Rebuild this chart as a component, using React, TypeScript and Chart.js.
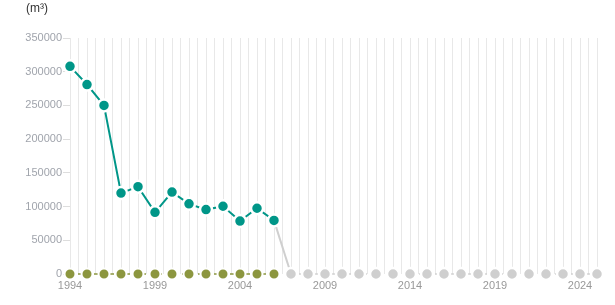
import React, { useEffect, useRef } from "react";
import { Chart, registerables } from "chart.js";

Chart.register(...registerables);

const years: number[] = Array.from({ length: 32 }, (_, i) => 1994 + i);
const mainValues: number[] = [
  308000, 281000, 250000, 120000, 129500, 91500, 121500, 104000, 95500, 100500, 78500, 97500, 79500,
  0, 0, 0, 0, 0, 0, 0, 0, 0, 0, 0, 0, 0, 0, 0, 0, 0, 0, 0,
];
const secondValues: number[] = [0, 0, 0, 0, 0, 0, 0, 0, 0, 0, 0, 0, 0];
const yTicks: number[] = [0, 50000, 100000, 150000, 200000, 250000, 300000, 350000];
const unitLabel = "(m³)";
const lastDataYear = 2006;

const TEAL = "#009688";
const OLIVE = "#8c963f";
const GRAY = "#cfcfcf";
const FONT = "'Liberation Sans', Arial, sans-serif";

export default function App() {
  const ref = useRef<HTMLCanvasElement | null>(null);
  useEffect(() => {
    if (!ref.current) return;
    const mainData = years.map((y, i) => ({ x: y, y: mainValues[i] }));
    const secondData = secondValues.map((v, i) => ({ x: years[i], y: v }));
    const chart = new Chart(ref.current, {
      type: "line",
      data: {
        datasets: [
          {
            data: secondData,
            borderColor: OLIVE,
            borderWidth: 1.5,
            borderDash: [4, 4],
            pointRadius: 5.5,
            pointBackgroundColor: OLIVE,
            pointBorderColor: "#ffffff",
            pointBorderWidth: 2,
            clip: false as any,
            order: 2,
          },
          {
            data: mainData,
            borderColor: TEAL,
            borderWidth: 2,
            pointRadius: 6,
            pointBackgroundColor: mainData.map((d) => (d.x > lastDataYear ? GRAY : TEAL)),
            pointBorderColor: "#ffffff",
            pointBorderWidth: 2.5,
            clip: false as any,
            order: 1,
            segment: {
              borderColor: (ctx: any) => (ctx.p1.parsed.x > lastDataYear ? GRAY : TEAL),
              borderDash: (ctx: any) => (ctx.p0.parsed.x > lastDataYear ? [4, 4] : undefined),
              borderWidth: (ctx: any) => (ctx.p0.parsed.x > lastDataYear ? 1.5 : 2),
            } as any,
          },
        ],
      },
      options: {
        animation: false,
        responsive: false,
        maintainAspectRatio: false,
        layout: { padding: { top: 38, right: 18, left: 0, bottom: 0 } },
        plugins: { legend: { display: false }, tooltip: { enabled: false } },
        scales: {
          x: {
            type: "linear",
            min: years[0],
            max: years[years.length - 1],
            afterFit: (s: any) => {
              s.height = 31;
            },
            grid: {
              color: "#e8e8e8",
              lineWidth: 1,
              drawTicks: false,
              tickLength: 0,
            },
            border: { display: false },
            ticks: {
              stepSize: 0.5,
              autoSkip: false,
              maxRotation: 0,
              padding: 5,
              color: "#999999",
              font: { family: FONT, size: 11 },
              callback: (v: any) => {
                const n = Number(v);
                if (Number.isInteger(n) && (n - years[0]) % 5 === 0) return String(n);
                return "";
              },
            },
          },
          y: {
            min: yTicks[0],
            max: yTicks[yTicks.length - 1],
            afterFit: (s: any) => {
              s.width = 70;
            },
            afterBuildTicks: (s: any) => {
              s.ticks = yTicks.map((v) => ({ value: v }));
            },
            grid: {
              drawOnChartArea: false,
              color: "#dddddd",
              tickLength: 7,
            },
            border: { display: false },
            ticks: {
              padding: 1,
              color: "#a0a4ac",
              font: { family: FONT, size: 11 },
              callback: (v: any) => String(v),
            },
          },
        },
      },
    });
    return () => chart.destroy();
  }, []);
  return (
    <div style={{ position: "fixed", left: 0, top: 0, width: 615, height: 305, background: "#fff" }}>
      <canvas ref={ref} width={615} height={305} style={{ display: "block" }} />
      <div
        style={{
          position: "absolute",
          left: 26,
          top: 1,
          fontFamily: FONT,
          fontSize: 12,
          color: "#333333",
        }}
      >
        {unitLabel}
      </div>
    </div>
  );
}
